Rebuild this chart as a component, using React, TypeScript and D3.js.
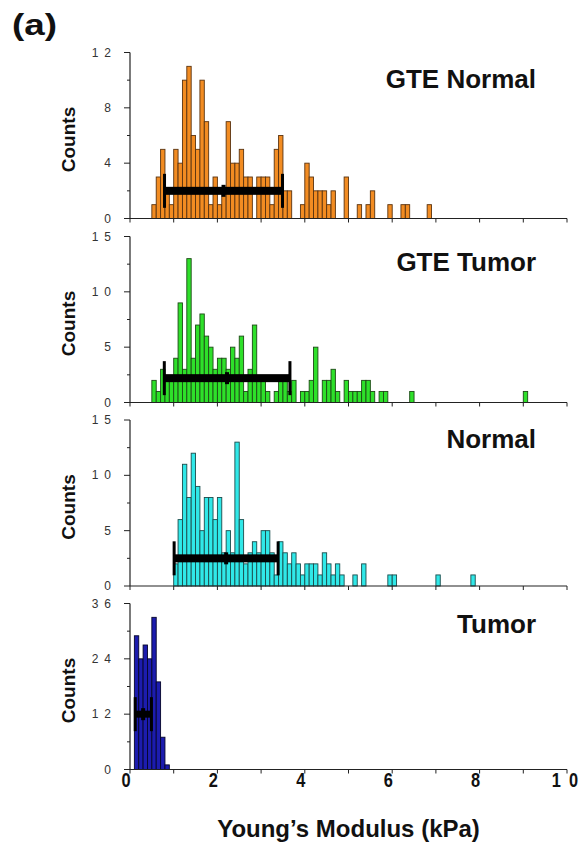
import React from 'react';
import * as d3 from 'd3';

// ---- data ----
const BIN = 0.1; // kPa bin width
const xTickValues = [0, 1, 2, 3, 4, 5, 6, 7, 8, 9, 10];
const xLabelValues = [0, 2, 4, 6, 8, 10];
const xLabelTexts = ['0', '2', '4', '6', '8', '1\u20020'];

const panelTitles = ['GTE Normal', 'GTE Tumor', 'Normal', 'Tumor'];
const panelYMax = [12, 15, 15, 36];
const panelYLabelValues = [[0, 4, 8, 12], [0, 5, 10, 15], [0, 5, 10, 15], [0, 12, 24, 36]];
const panelYLabelTexts = [['0', '4', '8', '1\u20022'], ['0', '5', '1\u20020', '1\u20025'], ['0', '5', '1\u20020', '1\u20025'], ['0', '1\u20022', '2\u20024', '3\u20026']];
const panelYMinorValues = [[2, 6, 10], [2.5, 7.5, 12.5], [2.5, 7.5, 12.5], [6, 18, 30]];

const gteNormalStart = 0.5;
const gteNormalCounts = [1, 3, 5, 2, 1, 5, 4, 10, 11, 6, 5, 10, 7, 1, 3, 1, 2, 7, 4, 4, 5, 3, 3, 0, 3, 3, 3, 1, 5, 6, 2, 2, 0, 0, 1, 4, 3, 2, 2, 2, 1, 2, 0, 0, 3, 0, 0, 1, 0, 1, 2, 0, 0, 0, 1, 0, 0, 1, 1, 0, 0, 0, 0, 1];

const gteTumorStart = 0.5;
const gteTumorCounts = [2, 1, 3, 2, 2, 4, 9, 3, 13, 4, 7, 8, 6, 5, 3, 4, 4, 3, 5, 4, 6, 1, 3, 7, 2, 2, 1, 0, 1, 2, 2, 1, 2, 0, 1, 1, 2, 5, 0, 2, 2, 3, 1, 0, 2, 1, 1, 1, 2, 2, 1, 0, 1, 1, 0, 0, 0, 0, 0, 1, 0, 0, 0, 0, 0, 0, 0, 0, 0, 0, 0, 0, 0, 0, 0, 0, 0, 0, 0, 0, 0, 0, 0, 0, 0, 1];

const normalStart = 1.0;
const normalCounts = [2, 6, 11, 8, 12, 9, 5, 8, 8, 6, 8, 3, 5, 3, 13, 6, 2, 3, 4, 3, 5, 5, 3, 1, 4, 3, 2, 3, 2, 1, 2, 2, 2, 1, 3, 2, 1, 2, 1, 0, 0, 1, 0, 2, 0, 0, 0, 0, 0, 1, 1, 0, 0, 0, 0, 0, 0, 0, 0, 0, 1, 0, 0, 0, 0, 0, 0, 0, 1];

const tumorStart = 0.1;
const tumorCounts = [29, 24, 27, 24, 33, 19, 7, 1];

// error bars: left kPa, mean kPa, right kPa, count level
const errLeft = [0.79, 0.785, 1.01, 0.12];
const errMean = [2.14, 2.22, 2.2, 0.3];
const errRight = [3.49, 3.66, 3.39, 0.49];
const errLevel = [2, 2.2, 2.5, 12];

const panelStarts = [gteNormalStart, gteTumorStart, normalStart, tumorStart];
const panelCounts = [gteNormalCounts, gteTumorCounts, normalCounts, tumorCounts];
const panelFill = ['#F28C22', '#2EE02A', '#30E8E8', '#1C1CAE'];
const panelStroke = ['#5a3310', '#1d4a16', '#1b4c4c', '#05052a'];

// ---- layout ----
const W = 579;
const H = 854;
const X0 = 130;
const X1 = 567;
const baselines = [218.5, 402.5, 586, 769.5];
const PH = 166;
const FONT = '"Liberation Sans", Arial, Helvetica, sans-serif';

export default function App() {
  const x = d3.scaleLinear().domain([0, 10]).range([X0, X1]);

  return (
    <svg width={W} height={H} style={{ position: 'absolute', left: 0, top: 0, background: '#fff' }} fontFamily={FONT}>
      <rect x={0} y={0} width={W} height={H} fill="#fff" />
      <text x={12} y={35} fontSize={30} fontWeight="bold" textLength={45} lengthAdjust="spacingAndGlyphs" fill="#111">(a)</text>
      {panelTitles.map((title, p) => {
        const base = baselines[p];
        const y = d3.scaleLinear().domain([0, panelYMax[p]]).range([base, base - PH]);
        const counts = panelCounts[p];
        const start = panelStarts[p];
        const bars = counts
          .map((c, i) => ({ c, x0: start + i * BIN, x1: start + (i + 1) * BIN }))
          .filter(d => d.c > 0);
        const ey = y(errLevel[p]);
        const eTh = p === 3 ? 7 : 8;
        const capH = 34;
        return (
          <g key={title}>
            {bars.map((d, i) => (
              <rect key={i} x={x(d.x0)} y={y(d.c)} width={x(d.x1) - x(d.x0)} height={base - y(d.c)}
                fill={panelFill[p]} stroke={panelStroke[p]} strokeWidth={0.9} />
            ))}
            {/* axes */}
            <line x1={X0} x2={X1} y1={base} y2={base} stroke="#222" strokeWidth={1.2} />
            <line x1={X0} x2={X0} y1={base} y2={base - PH} stroke="#222" strokeWidth={1.2} />
            {xTickValues.map(v => (
              <line key={'xt' + v} x1={x(v)} x2={x(v)} y1={base} y2={base + 4} stroke="#222" strokeWidth={1} />
            ))}
            {panelYLabelValues[p].map((v, i) => (
              <g key={'yl' + v}>
                <line x1={X0 - 6} x2={X0} y1={y(v)} y2={y(v)} stroke="#222" strokeWidth={1} />
                <text x={111} y={y(v) + 4} fontSize={12} textAnchor="end" fill="#333">{panelYLabelTexts[p][i]}</text>
              </g>
            ))}
            {panelYMinorValues[p].map(v => (
              <line key={'ym' + v} x1={X0 - 3} x2={X0} y1={y(v)} y2={y(v)} stroke="#222" strokeWidth={1} />
            ))}
            {/* error bar */}
            <rect x={x(errLeft[p])} y={ey - eTh / 2} width={x(errRight[p]) - x(errLeft[p])} height={eTh} fill="#000" />
            <rect x={x(errLeft[p]) - 1.5} y={ey - capH / 2} width={3} height={capH} fill="#000" />
            <rect x={x(errRight[p]) - 1.5} y={ey - capH / 2} width={3} height={capH} fill="#000" />
            <rect x={x(errMean[p]) - 2} y={ey - 6} width={4} height={12} fill="#000" />
            {/* labels */}
            <text x={536} y={[88, 271, 448, 633][p]} fontSize={26} fontWeight="bold" textAnchor="end" fill="#111">{title}</text>
            <text transform={`translate(75,${base - PH / 2 + 4}) rotate(-90)`} fontSize={19} fontWeight="bold" textAnchor="middle" fill="#111">Counts</text>
          </g>
        );
      })}
      {xLabelValues.map((v, i) => (
        <text key={'xl' + v} transform={`translate(${x(v) - (v === 10 ? 2 : 4)},787) scale(0.78,1)`} fontSize={21} fontWeight="bold" textAnchor="middle" fill="#111">{xLabelTexts[i]}</text>
      ))}
      <text x={(X0 + X1) / 2} y={837} fontSize={24} fontWeight="bold" textAnchor="middle" fill="#111">Young’s Modulus (kPa)</text>
    </svg>
  );
}
